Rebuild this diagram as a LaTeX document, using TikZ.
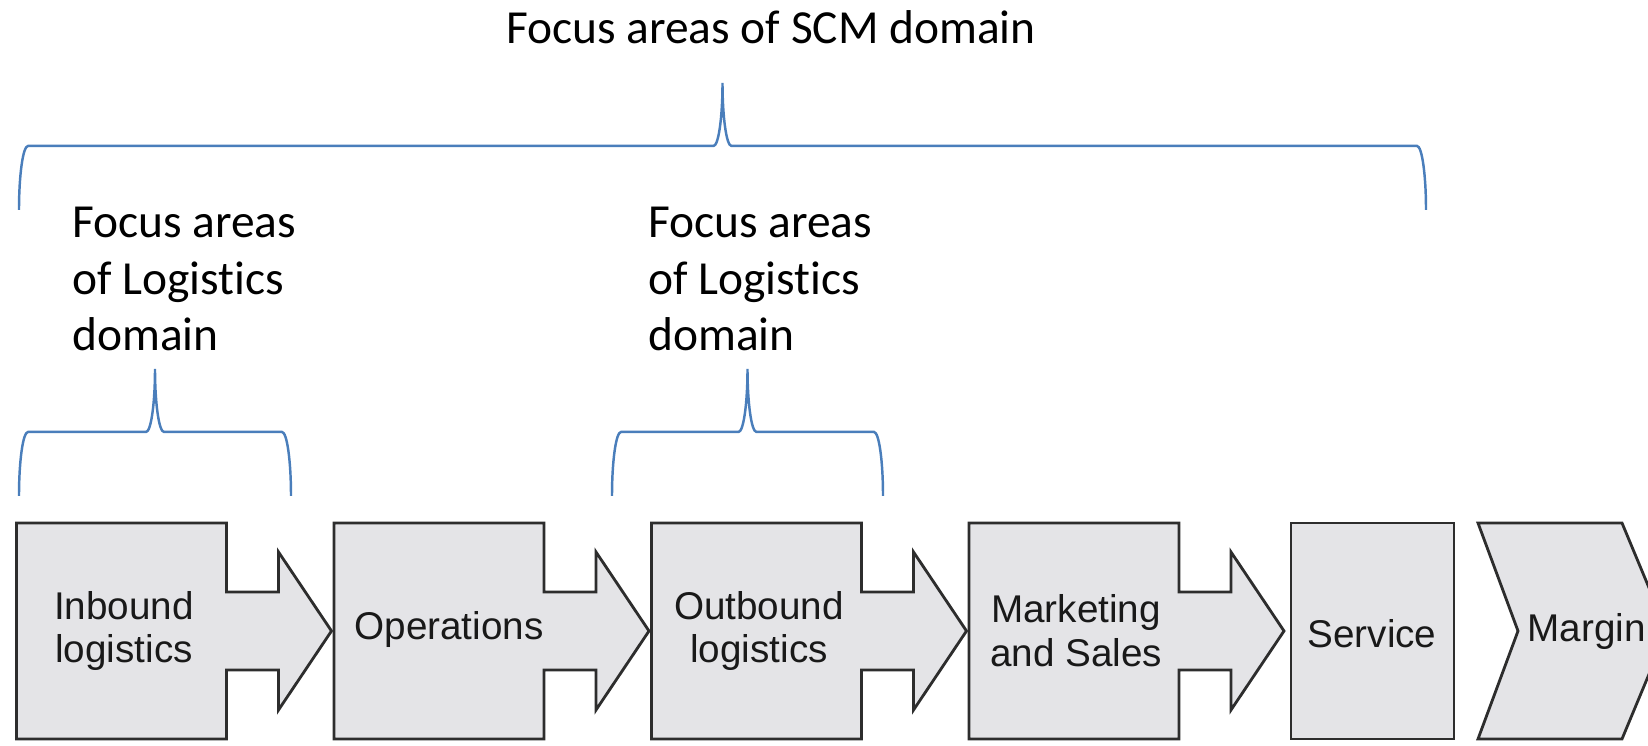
\documentclass[tikz,border=0pt]{standalone}
\usepackage{fontspec}
\usepackage{tikz}
\usepackage{xcolor}
\usetikzlibrary{positioning}
\setmainfont{Carlito}[Ligatures=CommonOff]
\newfontfamily\boxfont{Liberation Sans}

\definecolor{braceblue}{RGB}{74,126,187}
\definecolor{boxgray}{RGB}{228,228,231}
\definecolor{edgegray}{RGB}{45,45,45}

% curly brace, tip in the middle: left x, right x, bottom y
\newcommand{\focusbrace}[3]{%
  \draw[brace line] (#1,#3) arc[start angle=180, end angle=90, x radius=0.09, y radius=0.64]
    -- ({(#1+#2)/2-0.09},{#3+0.64}) arc[start angle=270, end angle=360, x radius=0.09, y radius=0.63]
    arc[start angle=180, end angle=270, x radius=0.09, y radius=0.63]
    -- ({#2-0.09},{#3+0.64}) arc[start angle=90, end angle=0, x radius=0.09, y radius=0.64];}

% box with the arrow on its right side: left x
\newcommand{\chainarrow}[1]{%
  \filldraw[chain line] (#1,0.07) -- ++(0,2.16) -- ++(2.10,0) -- ++(0,-0.69) -- ++(0.52,0)
    -- ++(0,0.40) -- ++(0.53,-0.79) -- ++(-0.53,-0.79) -- ++(0,0.40) -- ++(-0.52,0)
    -- ++(0,-0.69) -- cycle;}

\begin{document}
\begin{tikzpicture}[line join=miter,
    brace line/.style={draw=braceblue, line width=0.7pt},
    chain line/.style={draw=edgegray, fill=boxgray, line width=0.8pt},
    focustext/.style={anchor=north west, inner sep=0pt, align=left, font=\fontsize{13.5}{16.2}\selectfont},
    valuetext/.style={inner sep=0pt, align=center, text=black!90, font=\boxfont\fontsize{11}{12.5}\selectfont}]
    \useasboundingbox (0,0) rectangle (16.48,7.46);

    % braces and their labels
    \node[inner sep=0pt, anchor=base, font=\fontsize{13.5}{16.2}\selectfont] (scm) at (7.71,7.02) {Focus areas of SCM domain};
    \focusbrace{0.19}{14.26}{5.36}
    \node[focustext] (logleft) at (0.715,5.40) {Focus areas\\of Logistics\\domain};
    \node[focustext] (logright) at (6.475,5.40) {Focus areas\\of Logistics\\domain};
    \focusbrace{0.19}{2.91}{2.50}
    \focusbrace{6.12}{8.83}{2.50}

    % value chain
    \chainarrow{0.165}
    \chainarrow{3.34}
    \chainarrow{6.515}
    \chainarrow{9.69}
    \filldraw[chain line] (12.91,0.07) rectangle (14.54,2.23);
    \filldraw[chain line] (14.78,2.23) -- (16.22,2.23) -- (16.67,1.15) -- (16.22,0.07) -- (14.78,0.07) -- (15.18,1.15) -- cycle;

    \node[valuetext] (inbound) at (1.24,1.15) {Inbound\\logistics};
    \node[valuetext] (operations) at (4.49,1.16) {Operations};
    \node[valuetext] (outbound) at (7.59,1.15) {Outbound\\logistics};
    \node[valuetext] (marketing) at (10.76,1.15) {Marketing\\and Sales};
    \node[valuetext] (service) at (13.72,1.12) {Service};
    \node[valuetext, anchor=west] (margin) at (15.27,1.14) {Margin};
\end{tikzpicture}
\end{document}
